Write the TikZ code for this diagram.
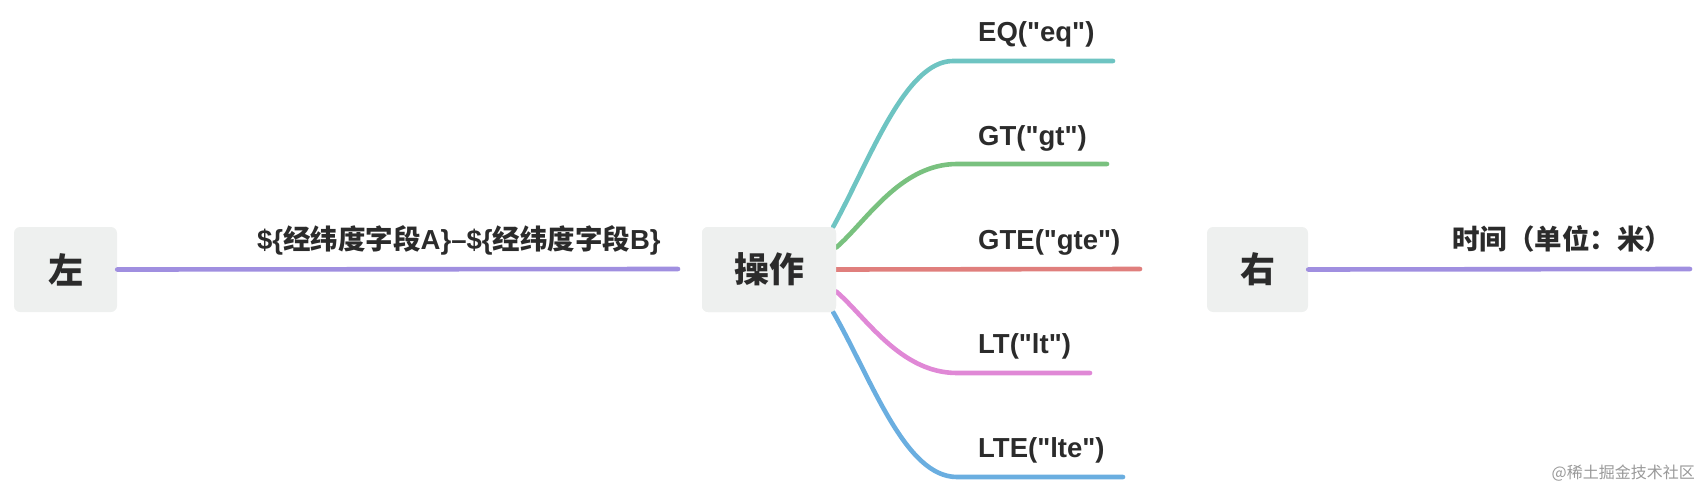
\documentclass[tikz,border=0pt]{standalone}
\usepackage{fontspec}
\setmainfont{Noto Sans CJK SC}
\newfontfamily\latf{Liberation Sans}
\definecolor{cpurple}{HTML}{A08FE0}
\definecolor{cteal}{HTML}{6EC4C2}
\definecolor{cgreen}{HTML}{79C17F}
\definecolor{cred}{HTML}{E07F7D}
\definecolor{cpink}{HTML}{E088D6}
\definecolor{cblue}{HTML}{6AAEE0}
\definecolor{boxfill}{HTML}{EEF0EF}
\definecolor{txt}{HTML}{2B2B2B}
\newcommand{\lt}[1]{{\latf\bfseries #1}}
\tikzset{
  topic/.style={fill=boxfill, rounded corners=6pt, text=txt, inner sep=0pt,
    font=\fontsize{35}{38}\selectfont\bfseries},
  branch/.style={line width=4.6pt, line cap=round},
  lbl/.style={text=txt, inner sep=0pt, anchor=base west,
    font=\fontsize{27.5}{31}\selectfont\bfseries},
}
\begin{document}
\begin{tikzpicture}[x=1pt,y=-1pt]
\useasboundingbox (0,0) rectangle (1702,482);
% topic boxes
\node[topic, minimum width=103pt, minimum height=85pt] (left) at (65.5,269.5) {左};
\node[topic, minimum width=134pt, minimum height=85pt] (op) at (769,269.5) {操作};
\node[topic, minimum width=101pt, minimum height=85pt] (right) at (1257.5,269.5) {右};
% end coordinates
\coordinate (lend) at (678,269);
\coordinate (rend) at (1690,269);
\coordinate (eqend) at (1113,61);
\coordinate (gtend) at (1107,164);
\coordinate (gteend) at (1140,269);
\coordinate (ltend) at (1090,373);
\coordinate (lteend) at (1123,477);
% connectors
\draw[branch, cpurple] (left.east) -- (lend);
\draw[branch, cpurple] (right.east) -- (rend);
\draw[branch, cteal] ([xshift=-3pt]op.north east) .. controls (870,160) and (905,61) .. (953,61) -- (eqend);
\draw[branch, cgreen] ([yshift=22pt]op.east) .. controls (866,222) and (900,164) .. (957,164) -- (gtend);
\draw[branch, cred] (op.east) -- (gteend);
\draw[branch, cpink] ([yshift=-22pt]op.east) .. controls (866,317) and (900,373) .. (957,373) -- (ltend);
\draw[branch, cblue] ([xshift=-3pt]op.south east) .. controls (872,380) and (905,477) .. (957,477) -- (lteend);
% redraw box on top of line starts
\node[topic, minimum width=134pt, minimum height=85pt] at (op) {操作};
% labels
\node[lbl] (lA) at (257,249) {\lt{\$\{}经纬度字段\lt{A\}–\$\{}经纬度字段\lt{B\}}};
\node[lbl] (lB) at (1452,249) {时间（单位：米）};
\node[lbl] (eq) at (978,41) {\lt{EQ("eq")}};
\node[lbl] (gt) at (978,145) {\lt{GT("gt")}};
\node[lbl] (gte) at (978,249) {\lt{GTE("gte")}};
\node[lbl] (lt) at (978,353) {\lt{LT("lt")}};
\node[lbl] (lte) at (978,457) {\lt{LTE("lte")}};
% watermark
\node[text=black!40, inner sep=0pt, anchor=base east, font=\fontsize{16}{18}\selectfont] (wm) at (1695,478) {@稀土掘金技术社区};
\end{tikzpicture}
\end{document}
